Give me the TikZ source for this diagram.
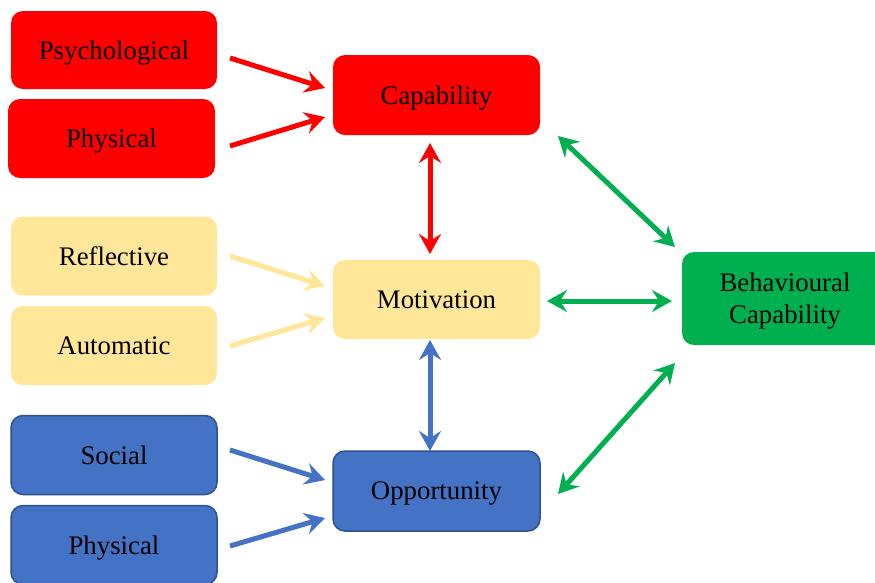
\documentclass[tikz,border=0pt]{standalone}
\usepackage{fontspec}
\setmainfont{Liberation Serif}
\usetikzlibrary{arrows.meta}
\definecolor{capred}{HTML}{FF0000}
\definecolor{motyellow}{HTML}{FFE699}
\definecolor{oppblue}{HTML}{4472C4}
\definecolor{oppborder}{HTML}{2F528F}
\definecolor{behgreen}{HTML}{00B050}
\tikzset{
  x=1pt, y=-1pt,
  box/.style={rounded corners=12pt, inner sep=0pt, align=center, text depth=0pt,
    font=\fontsize{26.8}{32}\selectfont, text=black},
  redbox/.style={box, fill=capred},
  yellowbox/.style={box, fill=motyellow},
  bluebox/.style={box, fill=oppblue, draw=oppborder, line width=1.5pt},
  greenbox/.style={box, fill=behgreen},
  tip/.style={-{Stealth[length=20pt, width=22pt, inset=7pt]}},
  dtip/.style={{Stealth[length=20pt, width=22pt, inset=7pt]}-{Stealth[length=20pt, width=22pt, inset=7pt]}},
  link/.style={line width=5pt},
}
\begin{document}
\begin{tikzpicture}
\useasboundingbox (0,0) rectangle (875,582);
\clip (0,0) rectangle (875,582);

% boxes
\node[redbox, minimum width=206pt, minimum height=78pt] (psy) at (114,50) {Psychological};
\node[redbox, minimum width=207pt, minimum height=79pt] (phyc) at (111.5,138.5) {Physical};
\node[redbox, minimum width=207pt, minimum height=80pt] (cap) at (436.5,95) {Capability};

\node[yellowbox, minimum width=206pt, minimum height=79pt] (ref) at (114,256) {Reflective};
\node[yellowbox, minimum width=206pt, minimum height=79pt] (aut) at (114,345.5) {Automatic};
\node[yellowbox, minimum width=207pt, minimum height=79pt] (mot) at (436.5,299.5) {Motivation};

\node[bluebox, minimum width=206pt, minimum height=79pt] (soc) at (114,455) {Social};
\node[bluebox, minimum width=206pt, minimum height=79pt] (phyo) at (114,545) {Physical};
\node[bluebox, minimum width=207pt, minimum height=80pt] (opp) at (436.5,491) {Opportunity};

\node[greenbox, minimum width=206pt, minimum height=93pt] (beh) at (785,298.5) {Behavioural\\Capability};

% arrow end points
\coordinate (a1s) at (230,58);  \coordinate (a1e) at (325,88);
\coordinate (a2s) at (230,146); \coordinate (a2e) at (325,117);
\coordinate (a3s) at (230,256); \coordinate (a3e) at (325,286);
\coordinate (a4s) at (230,346); \coordinate (a4e) at (325,318);
\coordinate (a5s) at (230,450); \coordinate (a5e) at (325,480);
\coordinate (a6s) at (230,546); \coordinate (a6e) at (325,518);
\coordinate (v1s) at (430,143); \coordinate (v1e) at (430,254);
\coordinate (v2s) at (430,340); \coordinate (v2e) at (430,451);
\coordinate (g1s) at (558,136); \coordinate (g1e) at (675,247);
\coordinate (g2s) at (547,301); \coordinate (g2e) at (672,301);
\coordinate (g3s) at (558,494); \coordinate (g3e) at (675,363);

% inputs to the three components
\draw[link, tip, capred] (a1s) -- (a1e);
\draw[link, tip, capred] (a2s) -- (a2e);
\draw[link, tip, motyellow] (a3s) -- (a3e);
\draw[link, tip, motyellow] (a4s) -- (a4e);
\draw[link, tip, oppblue] (a5s) -- (a5e);
\draw[link, tip, oppblue] (a6s) -- (a6e);

% links between components
\draw[link, dtip, capred] (v1s) -- (v1e);
\draw[link, dtip, oppblue] (v2s) -- (v2e);

% links to behaviour
\draw[link, dtip, behgreen] (g1s) -- (g1e);
\draw[link, dtip, behgreen] (g2s) -- (g2e);
\draw[link, dtip, behgreen] (g3s) -- (g3e);
\end{tikzpicture}
\end{document}
